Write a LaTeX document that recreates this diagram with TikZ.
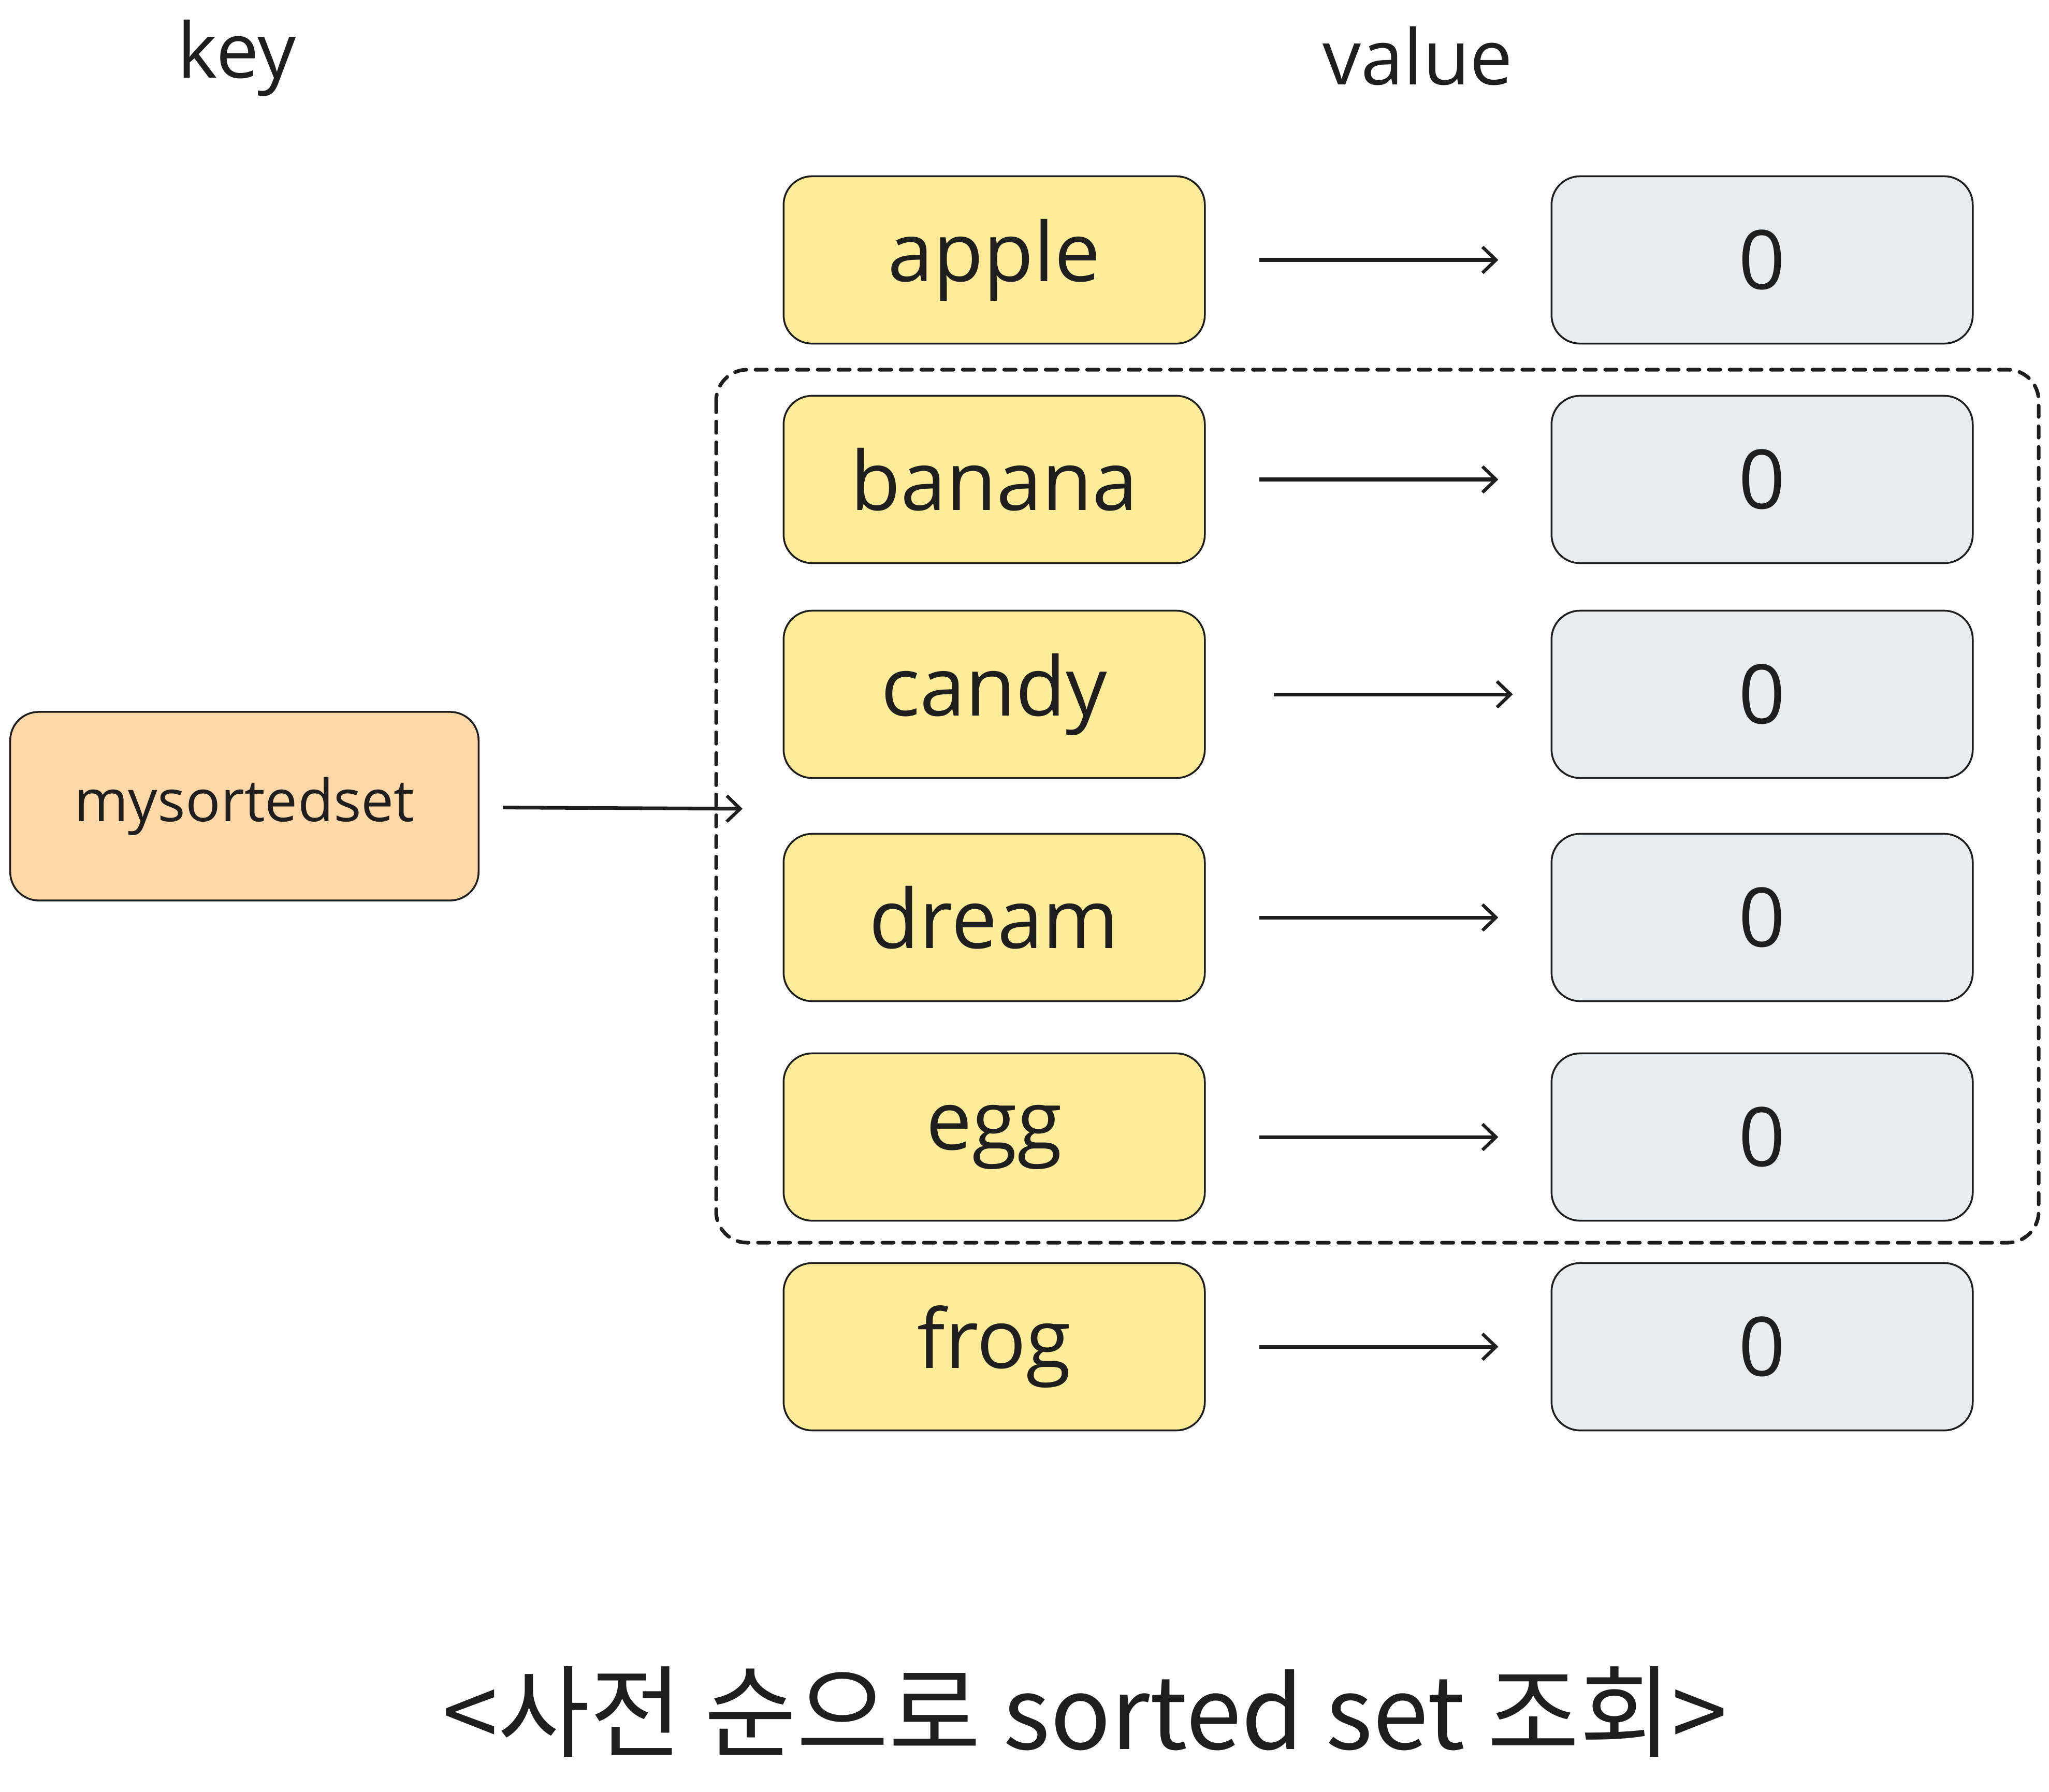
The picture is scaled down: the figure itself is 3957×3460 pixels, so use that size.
\documentclass[tikz,border=0pt]{standalone}
\usepackage{fontspec}
\setmainfont{Open Sans}
\newfontfamily\kofont{Noto Sans CJK KR}
\usepackage{tikz}
\usetikzlibrary{arrows.meta}

\definecolor{inkline}{HTML}{1E1E1E}
\definecolor{keyfill}{HTML}{FFEC99}
\definecolor{valfill}{HTML}{E9ECEF}
\definecolor{setfill}{HTML}{FFD8A8}

\begin{document}
\begin{tikzpicture}[x=0.01cm, y=-0.01cm,
    keybox/.style={rectangle, rounded corners=0.55cm, draw=inkline, line width=1pt, fill=keyfill,
      minimum width=8.13cm, minimum height=3.23cm, inner sep=0, text=inkline,
      font=\fontsize{45}{52}\selectfont},
    valbox/.style={keybox, fill=valfill},
    setbox/.style={keybox, fill=setfill, minimum width=9.04cm, minimum height=3.64cm,
      font=\fontsize{32}{38}\selectfont},
    heading/.style={text=inkline, font=\fontsize{42}{48}\selectfont},
    link/.style={draw=inkline, line width=2pt, -{Straight Barb[length=0.26cm, width=0.5cm, line width=1.8pt]}}]
        \useasboundingbox (0,0) rectangle (3957,3460);

        \node (key) [heading] at (457,112) {key};
        \node (value) [heading] at (2738,108) {value};

        \node (set) [setbox] at (472,1557) {mysortedset};
        \coordinate (setin) at (1434,1562);

        \draw[inkline, line width=2pt, dash pattern=on 0.22cm off 0.18cm, line cap=round, rounded corners=0.6cm]
        (1383,714) rectangle (3937,2400);

        \node (k0) [keybox] at (1920,502) {apple};
        \node (k1) [keybox] at (1920,926) {banana};
        \node (k2) [keybox] at (1920,1341) {candy};
        \node (k3) [keybox] at (1920,1772) {dream};
        \node (k4) [keybox] at (1920,2196) {egg};
        \node (k5) [keybox] at (1920,2601) {frog};

        \node (v0) [valbox] at (3403,502) {0};
        \node (v1) [valbox] at (3403,926) {0};
        \node (v2) [valbox] at (3403,1341) {0};
        \node (v3) [valbox] at (3403,1772) {0};
        \node (v4) [valbox] at (3403,2196) {0};
        \node (v5) [valbox] at (3403,2601) {0};

        \draw[link, shorten <=0.45cm] (set) -- (setin);

        \path[link, shorten <=1.03cm, shorten >=1.01cm]
        (k0) edge (v0)
        (k1) edge (v1)
        (k3) edge (v3)
        (k4) edge (v4)
        (k5) edge (v5)
        ;
        \path[link, shorten <=1.31cm, shorten >=0.73cm]
        (k2) edge (v2);

        \node (title) [heading, font=\kofont\fontsize{55}{64}\selectfont] at (2095,3306) {<사전 순으로 sorted set 조회>};
\end{tikzpicture}
\end{document}
